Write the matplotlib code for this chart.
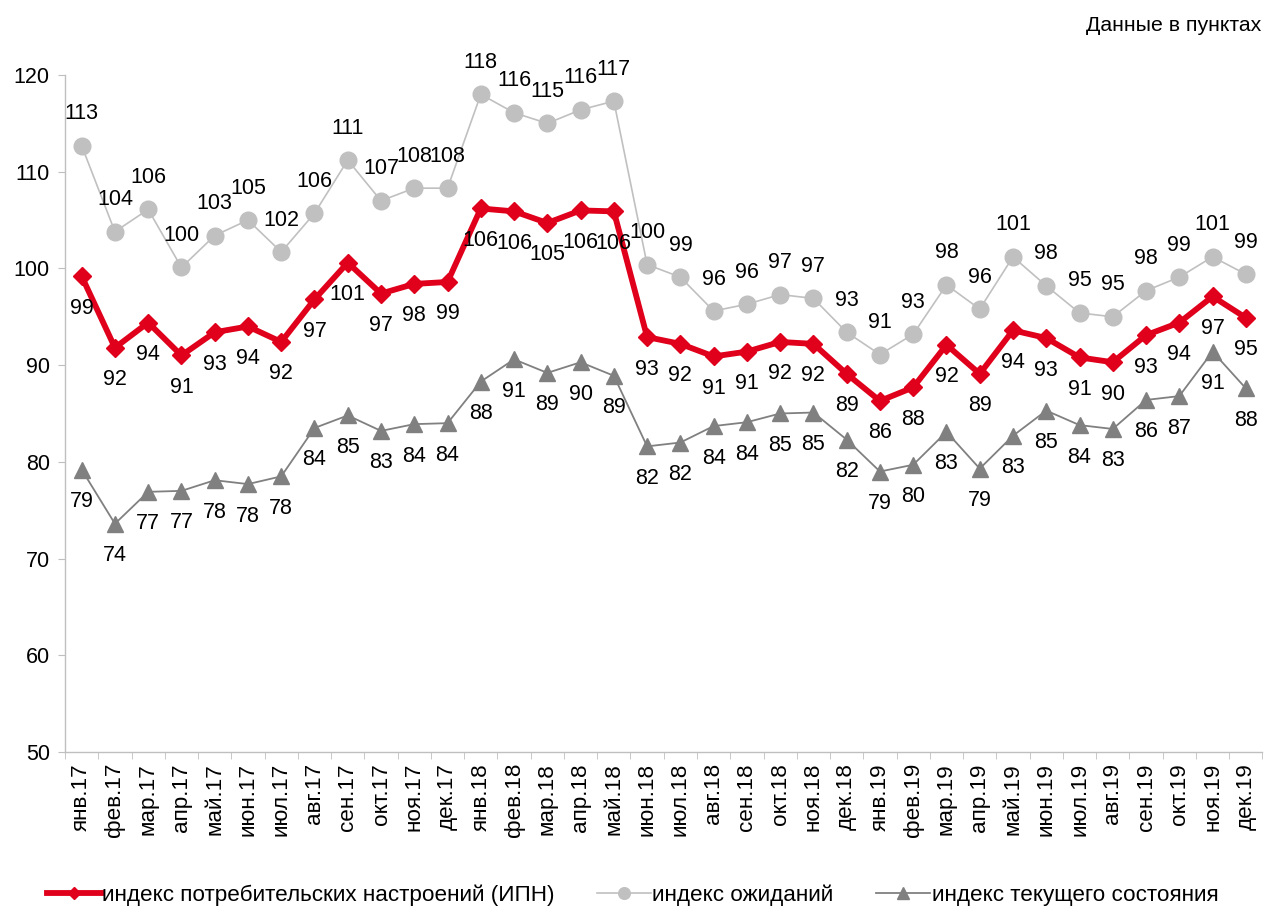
import matplotlib.pyplot as plt
import numpy as np

plt.rcParams['font.family'] = ['Liberation Sans', 'DejaVu Sans']

months = ['янв', 'фев', 'мар', 'апр', 'май', 'июн',
          'июл', 'авг', 'сен', 'окт', 'ноя', 'дек']
years = ['17', '18', '19']
labels = [m + '.' + y for y in years for m in months]

ipn = [99.2, 91.8, 94.4, 91.0, 93.4, 94.0, 92.4, 96.8, 100.6, 97.4, 98.4, 98.6,
       106.2, 105.9, 104.7, 106.0, 105.9, 92.9, 92.2, 90.9, 91.4, 92.4, 92.2, 89.1,
       86.3, 87.7, 92.1, 89.1, 93.6, 92.8, 90.8, 90.3, 93.1, 94.4, 97.1, 94.9]
expect = [112.7, 103.8, 106.1, 100.1, 103.4, 105.0, 101.7, 105.7, 111.2, 107.0, 108.3, 108.3,
          118.0, 116.1, 115.0, 116.4, 117.3, 100.4, 99.1, 95.6, 96.3, 97.3, 96.9, 93.4,
          91.1, 93.2, 98.3, 95.8, 101.2, 98.2, 95.4, 95.0, 97.7, 99.1, 101.2, 99.4]
current = [79.2, 73.6, 76.9, 77.0, 78.1, 77.7, 78.5, 83.5, 84.8, 83.2, 83.9, 84.0,
           88.3, 90.6, 89.2, 90.3, 88.9, 81.6, 82.0, 83.7, 84.1, 85.0, 85.1, 82.3,
           79.0, 79.7, 83.1, 79.3, 82.7, 85.3, 83.8, 83.4, 86.4, 86.8, 91.4, 87.6]

RED = '#E0001B'
LIGHT = '#C0C0C0'
DARK = '#808080'
FS = 15.5

fig = plt.figure(figsize=(12.65, 9.06), dpi=100)
ax = fig.add_axes([0.0514, 0.17, 0.9466, 0.7472])

x = np.arange(len(labels))

ax.plot(x, expect, color=LIGHT, lw=1.2, marker='o', ms=12,
        label='индекс ожиданий', zorder=2)
ax.plot(x, current, color=DARK, lw=1.3, marker='^', ms=12,
        label='индекс текущего состояния', zorder=2)
ax.plot(x, ipn, color=RED, lw=4.2, marker='D', ms=9,
        label='индекс потребительских настроений (ИПН)', zorder=3)

# data labels: expectations above, the other two below
for xi, v in zip(x, expect):
    ax.annotate(f'{round(v)}', (xi, v), xytext=(0, 23), textcoords='offset points',
                ha='center', va='center', fontsize=FS)
for xi, v in zip(x, ipn):
    ax.annotate(f'{round(v)}', (xi, v), xytext=(0, -23), textcoords='offset points',
                ha='center', va='center', fontsize=FS)
for xi, v in zip(x, current):
    ax.annotate(f'{round(v)}', (xi, v), xytext=(0, -23), textcoords='offset points',
                ha='center', va='center', fontsize=FS)

ax.set_xlim(-0.5, len(labels) - 0.5)
ax.set_ylim(50, 120)
ax.set_yticks(range(50, 121, 10))
ax.set_xticks(x)
ax.set_xticklabels(labels, rotation=90, fontsize=16.2)
ax.tick_params(axis='x', length=0, pad=8)
ax.set_xticks(np.arange(-0.5, len(labels), 1), minor=True)
ax.tick_params(axis='x', which='minor', length=5, color='#BFBFBF', direction='out')
ax.tick_params(axis='y', length=5, color='#BFBFBF', labelsize=15.5, pad=6)

for s in ['top', 'right']:
    ax.spines[s].set_visible(False)
for s in ['left', 'bottom']:
    ax.spines[s].set_color('#BFBFBF')
    ax.spines[s].set_linewidth(1)

handles, labs = ax.get_legend_handles_labels()
order = [2, 0, 1]
leg = fig.legend([handles[i] for i in order], [labs[i] for i in order],
                 loc='lower center', bbox_to_anchor=(0.5, -0.022), ncol=3,
                 frameon=False, fontsize=16.2, handlelength=2.4, handletextpad=0.05,
                 columnspacing=1.9, markerscale=0.7)

fig.text(0.997, 0.972, 'Данные в пунктах', ha='right', va='center', fontsize=15.3)

fig.savefig('out.png', dpi=100)
